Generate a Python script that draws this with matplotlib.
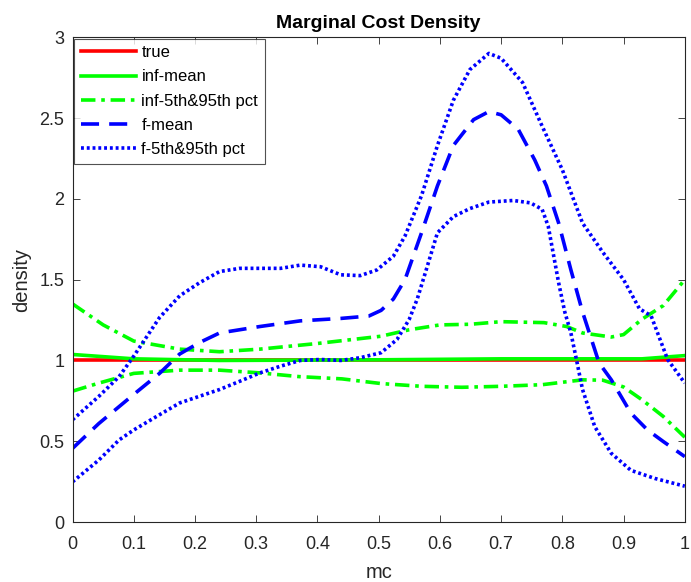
import matplotlib
matplotlib.use("Agg")
import matplotlib.pyplot as plt

plt.rcParams['font.family'] = ['Liberation Sans', 'DejaVu Sans']

# ---- data ----
true_x = [0.0, 1.0]
true_y = [1.0, 1.0]

infmean_x = [0.0, 0.1, 0.24, 0.5, 0.7, 0.93, 1.0]
infmean_y = [1.037, 1.01, 1.0, 1.004, 1.01, 1.01, 1.03]

infhi_x = [0.0, 0.05, 0.10, 0.175, 0.24, 0.306, 0.40, 0.504, 0.55, 0.60, 0.65, 0.70,
           0.77, 0.807, 0.833, 0.88, 0.90, 0.93, 0.965, 1.0]
infhi_y = [1.35, 1.22, 1.12, 1.07, 1.054, 1.07, 1.105, 1.15, 1.19, 1.22, 1.224, 1.24,
           1.234, 1.21, 1.17, 1.145, 1.16, 1.255, 1.34, 1.5]

inflo_x = [0.0, 0.043, 0.10, 0.175, 0.24, 0.306, 0.37, 0.44, 0.504, 0.57, 0.636, 0.70,
           0.767, 0.833, 0.866, 0.90, 0.93, 0.965, 1.0]
inflo_y = [0.81, 0.86, 0.92, 0.94, 0.94, 0.923, 0.90, 0.886, 0.857, 0.84, 0.834, 0.84,
           0.85, 0.88, 0.878, 0.836, 0.757, 0.653, 0.525]

fmean_x = [0.0, 0.043, 0.10, 0.142, 0.175, 0.207, 0.24, 0.306, 0.372, 0.438, 0.484,
           0.504, 0.524, 0.543, 0.57, 0.596, 0.622, 0.655, 0.68, 0.70, 0.728, 0.755,
           0.774, 0.794, 0.814, 0.833, 0.86, 0.88, 0.912, 0.939, 0.965, 1.0]
fmean_y = [0.456, 0.61, 0.79, 0.92, 1.04, 1.11, 1.17, 1.21, 1.245, 1.26, 1.275,
           1.31, 1.38, 1.50, 1.79, 2.08, 2.33, 2.49, 2.54, 2.52, 2.43, 2.24,
           2.08, 1.85, 1.56, 1.30, 0.985, 0.88, 0.674, 0.57, 0.498, 0.405]

fhi_x = [0.0, 0.043, 0.076, 0.10, 0.142, 0.175, 0.207, 0.24, 0.273, 0.306, 0.34, 0.372,
         0.405, 0.438, 0.47, 0.497, 0.524, 0.543, 0.57, 0.596, 0.622, 0.649, 0.68,
         0.70, 0.735, 0.767, 0.80, 0.833, 0.866, 0.90, 0.926, 0.945, 0.972, 1.0]
fhi_y = [0.633, 0.778, 0.90, 1.027, 1.265, 1.40, 1.48, 1.55, 1.57, 1.57, 1.57, 1.59,
         1.58, 1.53, 1.525, 1.56, 1.645, 1.77, 2.02, 2.33, 2.61, 2.80, 2.90,
         2.87, 2.72, 2.45, 2.18, 1.85, 1.67, 1.50, 1.32, 1.276, 1.006, 0.86]

flo_x = [0.0, 0.043, 0.076, 0.10, 0.142, 0.175, 0.207, 0.24, 0.273, 0.306, 0.34, 0.372,
         0.405, 0.438, 0.47, 0.504, 0.53, 0.55, 0.563, 0.576, 0.596, 0.622, 0.649, 0.68,
         0.72, 0.748, 0.767, 0.777, 0.794, 0.804, 0.814, 0.823, 0.833, 0.853, 0.88,
         0.912, 0.951, 1.0]
flo_y = [0.249, 0.384, 0.508, 0.57, 0.664, 0.737, 0.778, 0.82, 0.871, 0.923, 0.965, 1.0,
         1.006, 1.0, 1.017, 1.048, 1.13, 1.255, 1.38, 1.54, 1.79, 1.89, 1.94, 1.98,
         1.99, 1.975, 1.935, 1.83, 1.48, 1.30, 1.17, 1.006, 0.82, 0.59, 0.425,
         0.32, 0.27, 0.222]

labels = ['true', 'inf-mean', 'inf-5th&95th pct', 'f-mean', 'f-5th&95th pct']
xticks = [0, 0.1, 0.2, 0.3, 0.4, 0.5, 0.6, 0.7, 0.8, 0.9, 1]
xticklabels = ['0', '0.1', '0.2', '0.3', '0.4', '0.5', '0.6', '0.7', '0.8', '0.9', '1']
yticks = [0, 0.5, 1, 1.5, 2, 2.5, 3]
yticklabels = ['0', '0.5', '1', '1.5', '2', '2.5', '3']

# ---- plot ----
fig = plt.figure(figsize=(6.91, 5.82), dpi=100)
ax = fig.add_axes([0.105, 0.103, 0.886, 0.833])

lw = 2.6
dashdot = (0, (4.0, 1.6, 1.0, 1.6))
dashed = (0, (5.0, 2.8))
dotted = (0, (0.8, 0.8))

ax.plot(true_x, true_y, color='#ff0000', lw=lw, label=labels[0])
ax.plot(infmean_x, infmean_y, color='#00ff00', lw=lw, label=labels[1])
ax.plot(infhi_x, infhi_y, color='#00ff00', lw=lw, ls=dashdot, label=labels[2])
ax.plot(inflo_x, inflo_y, color='#00ff00', lw=lw, ls=dashdot)
ax.plot(fmean_x, fmean_y, color='#0000ff', lw=lw, ls=dashed, label=labels[3])
ax.plot(fhi_x, fhi_y, color='#0000ff', lw=lw, ls=dotted, label=labels[4])
ax.plot(flo_x, flo_y, color='#0000ff', lw=lw, ls=dotted)

ax.set_xlim(0, 1)
ax.set_ylim(0, 3)
ax.set_xticks(xticks)
ax.set_xticklabels(xticklabels)
ax.set_yticks(yticks)
ax.set_yticklabels(yticklabels)
ax.tick_params(direction='in', top=True, right=True, length=5, width=0.6,
               labelsize=13, colors='#262626')
ax.tick_params(axis='x', pad=10)
ax.tick_params(axis='y', pad=6)
for s in ax.spines.values():
    s.set_color('#262626')
    s.set_linewidth(0.8)

ax.set_xlabel('mc', fontsize=14.5, color='#262626', labelpad=7)
ax.set_ylabel('density', fontsize=14.5, color='#262626', labelpad=6)
ax.set_title('Marginal Cost Density', fontsize=14, fontweight='bold', pad=7)

leg = ax.legend(loc='upper left', fontsize=12, frameon=True, fancybox=False,
                edgecolor='#262626', handlelength=3.3, handletextpad=0.35,
                borderaxespad=0.08, labelspacing=0.55, borderpad=0.4)
leg.get_frame().set_linewidth(0.8)

fig.savefig('out.png', dpi=100)
